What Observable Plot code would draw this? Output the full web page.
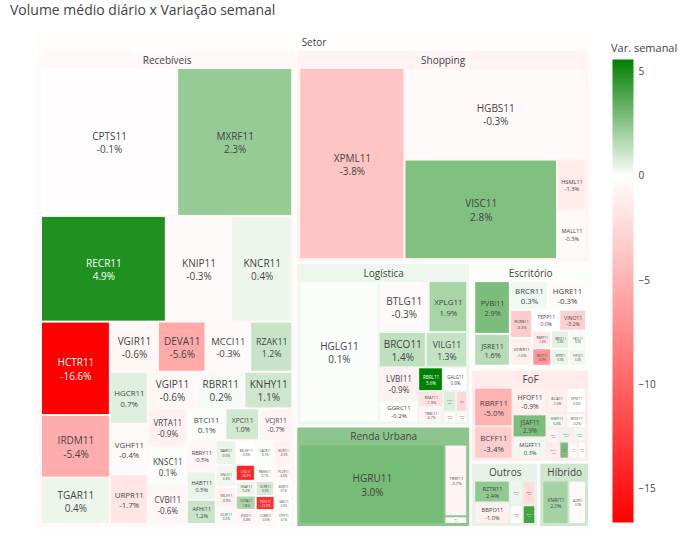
<!DOCTYPE html>
<html><head><meta charset="utf-8">
<script src="https://cdn.jsdelivr.net/npm/d3@7"></script>
<script src="https://cdn.jsdelivr.net/npm/@observablehq/plot@0.6"></script>
<style>
body{margin:0;background:#fff;font-family:"Open Sans",sans-serif;}
#wrap{width:685px;height:536px;position:relative;overflow:hidden;background:#fff}
#title{height:22px;line-height:20px;padding-left:10px;font-size:14px;color:#444;}
#row{display:flex}
#cbtitle{position:absolute;left:611px;top:40px;font-size:11px;color:#444}
</style></head><body>
<div id="wrap"><div id="title">Volume médio diário x Variação semanal</div><div id="row"><div id="main"></div><div id="cb"></div></div><div id="cbtitle">Var. semanal</div></div>
<script>
// ---- data ----
const setores = ["Recebíveis","Shopping","Logística","Renda Urbana","Escritório","FoF","Outros","Híbrido"];

const recebiveisTicker = ["CPTS11","MXRF11","RECR11","KNIP11","KNCR11","HCTR11","IRDM11","TGAR11","VGIR11","DEVA11","MCCI11","RZAK11","HGCR11","VGHF11","URPR11","VGIP11","RBRR11","KNHY11","VRTA11","KNSC11","CVBI11","BTCI11","XPCI11","VCJR11","RBRY11","HABT11","AFHI11","BARI11","MCHF11","CACR11","NCRI11","SNCI11","VSLH11","OUJP11","CXCI11","RBHG11","PLCR11","HSAF11","GCRA11","KIVO11","VCRR11","BCRI11","FEXC11","CCME11","SADI11","CPFF11"];
const recebiveisVolume = [21590,18257,14152,7413,6912,6901,4620,3428,2589,2550,2407,2258,2119,2051,2022,1901,1890,1879,1620,1614,1609,1313,1140,1134,971,877,752,534,513,492,486,475,464,335,329,324,319,313,308,302,297,292,286,281,270,260];
const recebiveisVar = [-0.1,2.3,4.9,-0.3,0.4,-16.6,-5.4,0.4,-0.6,-5.6,-0.3,1.2,0.7,-0.4,-1.7,-0.6,0.2,1.1,-0.9,0.1,-0.6,0.1,1.0,-0.7,-0.5,0.5,1.2,0.5,-0.04,0.1,-0.9,0.3,-0.9,0.2,-14.2,0.1,-0.6,0.4,1.8,-0.8,0.9,0.1,-13.5,-0.5,0.0,0.1];

const shoppingTicker = ["XPML11","HGBS11","VISC11","HSML11","MALL11"];
const shoppingVolume = [22882,18900,17252,1646,1640];
const shoppingVar = [-3.8,-0.3,2.8,-1.3,-0.3];

const logisticaTicker = ["HGLG11","BTLG11","XPLG11","BRCO11","VILG11","LVBI11","GGRC11","RBRL11","GALG11","RZAT11","TRBL11","PATL11","SDIL11","XPIN11","BLMG11"];
const logisticaVolume = [13474,3050,2350,1990,1750,1530,1080,700,690,483,459,314,278,169,145];
const logisticaVar = [0.1,-0.3,1.9,1.4,1.3,-0.9,-0.2,5.6,0.0,-1.9,-0.7,0.8,-2.6,-0.3,-0.5];

const rendaUrbanaTicker = ["HGRU11","TRXF11","RBVA11"];
const rendaUrbanaVolume = [15284,2158,233];
const rendaUrbanaVar = [3.0,-0.7,-0.4];

const escritorioTicker = ["PVBI11","JSRE11","BRCR11","HGRE11","RCRB11","GTWR11","TEPP11","VINO11","RBRP11","RECT11","BROF11","PATC11","XPPR11","FVPQ11"];
const escritorioVolume = [2510,1515,1460,1451,838,829,749,742,445,441,428,414,401,388];
const escritorioVar = [2.9,1.6,0.3,-0.3,-3.3,-1.0,0.0,-3.2,-1.4,-6.9,0.6,0.2,0.5,0.3];

const fofTicker = ["RBRF11","BCFF11","HFOF11","JSAF11","MGFF11","BCIA11","XPSF11","HGFF11","RFOF11","KFOF11","BPFF11","OUFF11","CXRI11","SNFF11","ITIP11","BLCP11"];
const fofVolume = [2050,1720,1250,1080,1000,700,685,420,413,280,266,252,238,224,210,196];
const fofVar = [-5.0,-3.4,-0.9,2.9,0.3,-1.0,0.0,0.3,-0.2,-0.8,-1.2,0.4,0.3,2.9,-0.3,0.1];

const outrosTicker = ["RZTR11","BBPO11","NEWL11","TORD11","RNGO11","BLCA11"];
const outrosVolume = [1297,1284,532,517,407,392];
const outrosVar = [2.4,-1.0,0.4,-2.2,-0.3,4.1];

const hibridoTicker = ["KNRI11","ALZR11"];
const hibridoVolume = [1980,1320];
const hibridoVar = [2.0,-0.3];

const colorTicks = [5,0,-5,-10,-15];

// ---- hierarchy ----
const groups = [
  [recebiveisTicker, recebiveisVolume, recebiveisVar],
  [shoppingTicker, shoppingVolume, shoppingVar],
  [logisticaTicker, logisticaVolume, logisticaVar],
  [rendaUrbanaTicker, rendaUrbanaVolume, rendaUrbanaVar],
  [escritorioTicker, escritorioVolume, escritorioVar],
  [fofTicker, fofVolume, fofVar],
  [outrosTicker, outrosVolume, outrosVar],
  [hibridoTicker, hibridoVolume, hibridoVar]
];
const rootData = {name: "Setor", children: groups.map(([t, v, c], gi) => ({
  name: setores[gi],
  children: t.map((name, i) => ({name, volume: v[i], variacao: c[i]}))
}))};

const W = 557, H = 496;
const root = d3.hierarchy(rootData).sum(d => d.volume || 0).sort((a, b) => b.value - a.value);
d3.treemap()
  .tile(d3.treemapSquarify.ratio(1))
  .size([W, H])
  .paddingTop(18)
  .paddingLeft(d => d.depth === 0 ? 4 : 3)
  .paddingRight(d => d.depth === 0 ? 4 : 3)
  .paddingBottom(3)
  .paddingInner(d => d.depth === 0 ? 3 : 2)(root);
root.eachAfter(n => {
  if (n.children) n.data.variacao = d3.sum(n.leaves(), l => l.data.volume * l.data.variacao) / n.value;
});
const nodes = root.descendants();
const parents = nodes.filter(d => d.children);
const leaves = root.leaves();

const [lo, hi] = d3.extent(leaves, d => d.data.variacao);
const colorOpts = {type: "linear", domain: [lo, 0, hi], range: ["#ff0000", "#ffffff", "#008000"], interpolate: "rgb"};
const cs = Plot.scale({color: colorOpts});
const isDark = d => {
  const c = d3.rgb(cs.apply(d.data.variacao));
  return (c.r * 299 + c.g * 587 + c.b * 114) / 1000 < 128;
};
const fmt = v => v.toFixed(1) + "%";
const label = d => d.data.name + "\n" + fmt(d.data.variacao);
const fs = d => {
  const w = d.x1 - d.x0, h = d.y1 - d.y0;
  const n = Math.max(d.data.name.length, fmt(d.data.variacao).length);
  return Math.max(1, Math.min(10, (w - 4) / (0.68 * n), (h - 3) / 2.9));
};
const textOpts = {x: d => (d.x0 + d.x1) / 2, y: d => (d.y0 + d.y1) / 2, text: label, fontSize: fs, lineHeight: 1.32};

const main = Plot.plot({
  width: 600, height: 514,
  marginLeft: 35, marginTop: 11, marginRight: 8, marginBottom: 7,
  x: {domain: [0, W], axis: null},
  y: {domain: [0, H], axis: null, reverse: true},
  color: colorOpts,
  style: {fontFamily: "Open Sans", background: "transparent"},
  marks: [
    Plot.rect(nodes, {x1: "x0", x2: "x1", y1: "y0", y2: "y1", fill: d => d.data.variacao}),
    Plot.text(parents, {x: d => (d.x0 + d.x1) / 2, y: d => d.y0 + 9, text: d => d.data.name, fontSize: 10, fill: "#444"}),
    Plot.text(leaves.filter(d => !isDark(d)), {...textOpts, fill: "#444"}),
    Plot.text(leaves.filter(isDark), {...textOpts, fill: "white"})
  ]
});
document.getElementById("main").append(main);

const cb = Plot.plot({
  width: 85, height: 514,
  marginTop: 37, marginBottom: 14, marginLeft: 12, marginRight: 52,
  x: {domain: [0, 1], axis: null},
  y: {domain: [lo, hi], axis: "right", ticks: colorTicks, tickSize: 0, tickPadding: 5, label: null},
  color: colorOpts,
  style: {fontFamily: "Open Sans", fontSize: "10px", color: "#444", background: "transparent"},
  marks: [
    Plot.raster({x1: 0, x2: 1, y1: lo, y2: hi, fill: (x, y) => y, width: 2, height: 300, imageRendering: "auto"})
  ]
});
document.getElementById("cb").append(cb);
</script>
</body></html>
